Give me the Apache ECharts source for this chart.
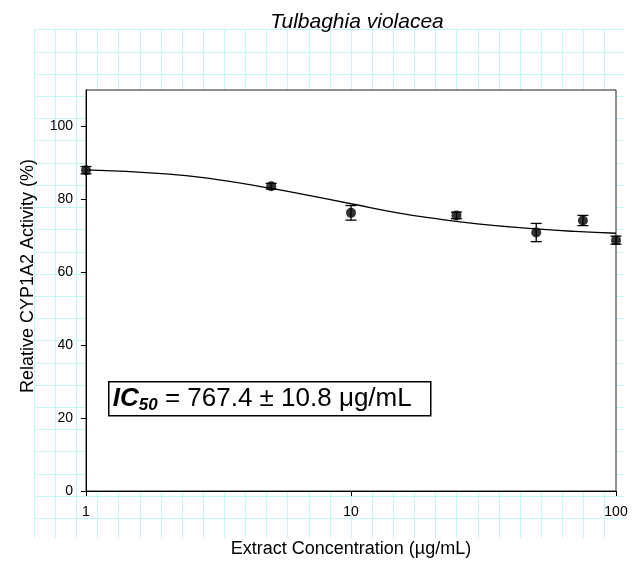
<!DOCTYPE html>
<html>
<head>
<meta charset="utf-8">
<script src="https://cdn.jsdelivr.net/npm/echarts@6/dist/echarts.min.js"></script>
<style>
html,body{margin:0;padding:0;background:#fff;}
#chart{width:642px;height:563px;}
</style>
</head>
<body>
<div id="chart"></div>
<script>
// ---- data ----
const xTickLabels = [1, 10, 100];
const yTickValues = [0, 20, 40, 60, 80, 100];
const conc = [1, 5, 10, 25, 50, 75, 100];
const activity = [88.0, 83.6, 76.3, 75.6, 70.9, 74.2, 68.8];
const sem = [1.0, 0.8, 2.0, 0.9, 2.5, 1.4, 1.1];
const fitConc = [1, 2, 3, 5, 7, 10, 15, 20, 30, 50, 70, 100];
const fitActivity = [88.1, 87.0, 85.6, 83.0, 81.0, 78.8, 76.3, 74.9, 73.3, 71.9, 71.2, 70.7];

const FONT = '"Liberation Sans", Arial, Helvetica, sans-serif';
const chart = echarts.init(document.getElementById('chart'), null, {renderer: 'canvas'});

// decorative worksheet grid behind the chart
const bg = [];
const gx0 = 34, gdx = 21.12, gy0 = 29.3, gdy = 22.22, gxEnd = 625, gyEnd = 538;
for (let k = 0; k <= 27; k++) {
  const x = Math.round(gx0 + gdx * k) + 0.5;
  bg.push({type: 'line', z: -10, silent: true, shape: {x1: x, y1: gy0, x2: x, y2: gyEnd}, style: {stroke: '#c4f8f8', lineWidth: 1}});
}
for (let k = 0; k <= 22; k++) {
  const y = Math.round(gy0 + gdy * k) + 0.5;
  bg.push({type: 'line', z: -10, silent: true, shape: {x1: gx0, y1: y, x2: gxEnd, y2: y}, style: {stroke: '#c4f8f8', lineWidth: 1}});
}

const option = {
  animation: false,
  backgroundColor: '#fff',
  title: {
    text: 'Tulbaghia violacea',
    left: 352, top: 7, textAlign: 'center',
    textStyle: {fontFamily: FONT, fontStyle: 'italic', fontWeight: 'normal', fontSize: 21, color: '#000'}
  },
  grid: {
    left: 86, top: 90, width: 530, height: 401,
    show: true, backgroundColor: '#fff', borderColor: '#222', borderWidth: 1, z: 0
  },
  xAxis: {
    type: 'log', logBase: 10, min: 1, max: 100,
    name: 'Extract Concentration (µg/mL)', nameLocation: 'middle', nameGap: 49,
    nameTextStyle: {fontFamily: FONT, fontSize: 18, color: '#000'},
    axisLine: {show: true, lineStyle: {color: '#000', width: 1}},
    axisTick: {show: true, length: 5, inside: false, lineStyle: {color: '#000'}},
    minorTick: {show: false},
    axisLabel: {fontFamily: FONT, fontSize: 14, color: '#000', margin: 14,
      formatter: v => (xTickLabels.indexOf(Math.round(v)) >= 0 ? String(Math.round(v)) : '')},
    splitLine: {show: false}
  },
  yAxis: {
    type: 'value', min: 0, max: 110,
    name: 'Relative CYP1A2 Activity (%)', nameLocation: 'middle', nameGap: 49,
    nameTextStyle: {fontFamily: FONT, fontSize: 18, color: '#000', padding: [0, 0, 0, 29]},
    axisLine: {show: true, lineStyle: {color: '#000', width: 1}},
    axisTick: {show: true, length: 5, inside: false, customValues: yTickValues, lineStyle: {color: '#000'}},
    axisLabel: {fontFamily: FONT, fontSize: 14, color: '#000', margin: 13, customValues: yTickValues},
    splitLine: {show: false}
  },
  graphic: bg.concat([{
    type: 'group', left: 108, top: 381, z: 50,
    children: [
      {type: 'rect', shape: {x: 0, y: 0, width: 322, height: 34},
       style: {fill: '#fff', stroke: '#000', lineWidth: 1.5}},
      {type: 'text', x: 4, y: 17,
       style: {
         text: '{ic|IC}{sub|50}{n| = 767.4 ± 10.8 μg/mL}',
         verticalAlign: 'middle', align: 'left',
         rich: {
           ic: {fontFamily: FONT, fontSize: 26, fontWeight: 'bold', fontStyle: 'italic', fill: '#000', lineHeight: 30, verticalAlign: 'middle'},
           sub: {fontFamily: FONT, fontSize: 17, fontWeight: 'bold', fontStyle: 'italic', fill: '#000', lineHeight: 30, padding: [14, 0, 0, 0], verticalAlign: 'middle'},
           n: {fontFamily: FONT, fontSize: 26, fill: '#000', lineHeight: 30, verticalAlign: 'middle'}
         }
       }}
    ]
  }]),
  series: [
    {
      type: 'line', name: 'fit', data: fitConc.map((c, i) => [c, fitActivity[i]]),
      smooth: true, showSymbol: false, symbol: 'none',
      lineStyle: {color: '#000', width: 1.3}, z: 3, clip: false
    },
    {
      type: 'custom', name: 'sem',
      data: conc.map((c, i) => [c, activity[i], sem[i]]),
      encode: {x: 0, y: 1}, clip: false, z: 4,
      renderItem: function (params, api) {
        const x = api.value(0), y = api.value(1), e = api.value(2);
        const t = api.coord([x, y + e]);
        const b = api.coord([x, y - e]);
        const hw = 5.5;
        const st = {stroke: '#000', lineWidth: 1.3};
        return {type: 'group', children: [
          {type: 'line', shape: {x1: t[0], y1: t[1], x2: b[0], y2: b[1]}, style: st},
          {type: 'line', shape: {x1: t[0] - hw, y1: t[1], x2: t[0] + hw, y2: t[1]}, style: st},
          {type: 'line', shape: {x1: b[0] - hw, y1: b[1], x2: b[0] + hw, y2: b[1]}, style: st}
        ]};
      }
    },
    {
      type: 'scatter', name: 'data', data: conc.map((c, i) => [c, activity[i]]),
      symbol: 'circle', symbolSize: 10, itemStyle: {color: '#000'}, z: 5, clip: false
    }
  ]
};
chart.setOption(option);
</script>
</body>
</html>
